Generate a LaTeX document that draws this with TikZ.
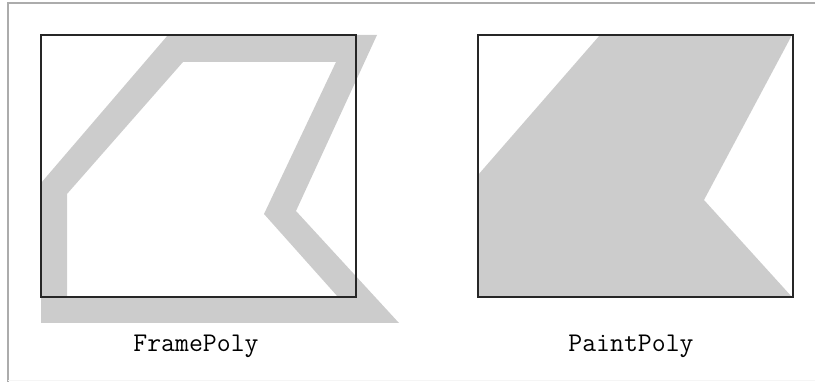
\documentclass[tikz,border=0pt]{standalone}
\usetikzlibrary{positioning}
\definecolor{PolyGray}{RGB}{204,204,204}
\definecolor{EdgeGray}{RGB}{172,172,172}

\begin{document}
\begin{tikzpicture}[x=1pt, y=-1pt,
  box/.style={draw=black!85, line width=1.1pt},
  lbl/.style={font=\fontsize{27}{27}\selectfont\ttfamily, inner sep=0pt}]
  \useasboundingbox (0,0) rectangle (815,382);

  % Panel edges
  \draw[EdgeGray, line width=1.2pt] (8,382) -- (8,3) -- (815,3);
  \draw[gray!8, line width=1pt] (8,381) -- (815,381);

  % Box corners
  \coordinate (F0) at (41,35);  \coordinate (F1) at (356,297);
  \coordinate (P0) at (478,35); \coordinate (P1) at (793,297);

  % FramePoly: pen band between outer and inner outline
  \fill[PolyGray, even odd rule]
    (168,35) -- (377,35) -- (296,211) -- (399,323) -- (41,323) -- (41,183) -- cycle
    (183,62) -- (336,62) -- (264,214) -- (338,297) -- (67,297) -- (67,194) -- cycle;
  \draw[box] (F0) rectangle (F1);
  \node[lbl] (framelbl) at (196,346) {FramePoly};

  % PaintPoly
  \fill[PolyGray] (478,175) -- (600,35) -- (792,35) -- (704,200) -- (792,297) -- (478,297) -- cycle;
  \draw[box] (P0) rectangle (P1);
  \node[lbl] (paintlbl) at (631,346) {PaintPoly};
\end{tikzpicture}
\end{document}
